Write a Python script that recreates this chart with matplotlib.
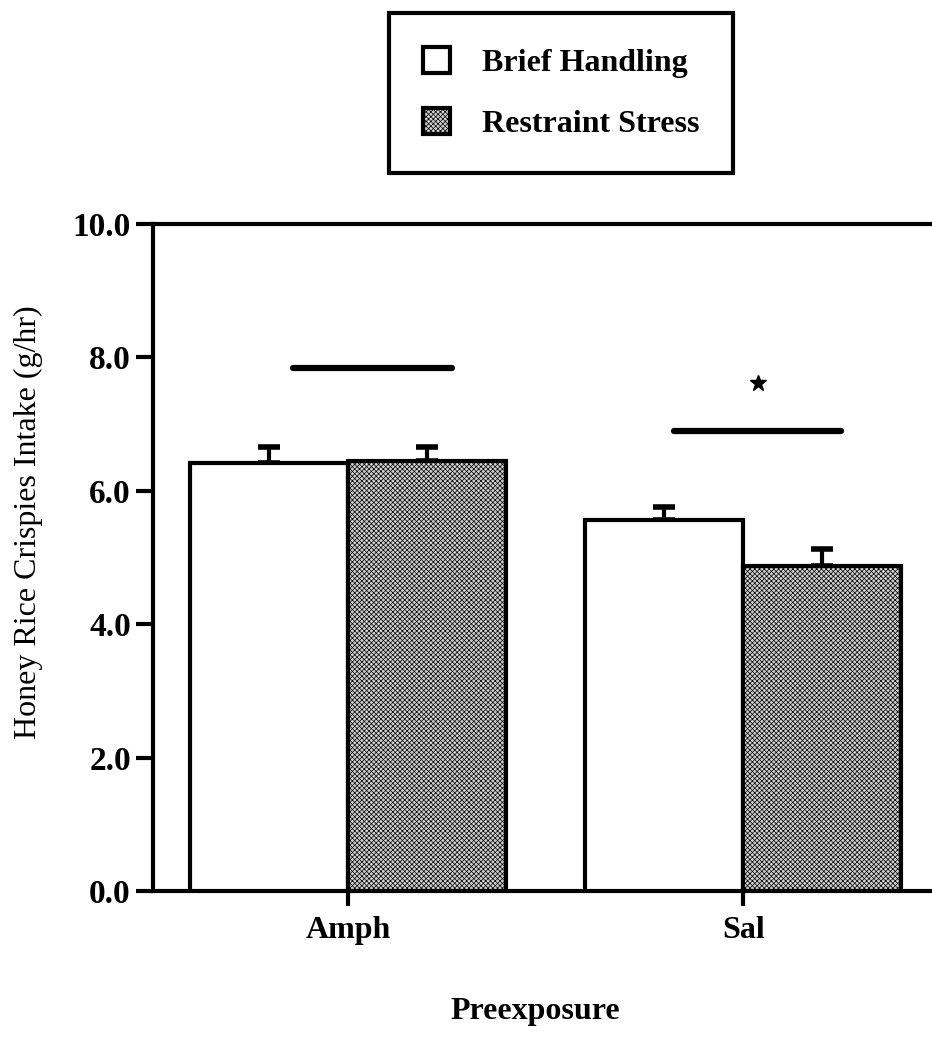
import numpy as np
import matplotlib
matplotlib.use('Agg')
import matplotlib.pyplot as plt

plt.rcParams['font.family'] = ['Liberation Serif', 'DejaVu Serif']
plt.rcParams['hatch.linewidth'] = 0.5
plt.rcParams['hatch.color'] = 'black'

groups = ['Amph', 'Sal']
conditions = ['Brief Handling', 'Restraint Stress']
handling = [6.42, 5.56]
handling_err = [0.24, 0.20]
restraint = [6.44, 4.88]
restraint_err = [0.22, 0.25]
yticks = [0.0, 2.0, 4.0, 6.0, 8.0, 10.0]

# comparison bars over each group, star marks the significant one
sig_y = [7.84, 6.89]
sig_x0 = [-0.14, -0.175]
sig_x1 = [0.263, 0.248]
star_x, star_y = 0.038, 7.62

fig = plt.figure(figsize=(9.32, 10.43), dpi=100)
ax = fig.add_axes([153/932, 1-891/1043, 1-153/932, (891-224)/1043])

x = np.arange(len(groups))
w = 0.4
b1 = ax.bar(x - w/2, handling, w, color='white', edgecolor='black', linewidth=3,
            label=conditions[0], zorder=3)
b2 = ax.bar(x + w/2, restraint, w, color='#cfcfcf', edgecolor='black', linewidth=3,
            hatch='xxxxxxx', label=conditions[1], zorder=3)

ax.errorbar(x - w/2, handling, yerr=[np.zeros(2), handling_err], fmt='none',
            ecolor='black', elinewidth=3, capsize=8, capthick=4, zorder=2)
ax.errorbar(x + w/2, restraint, yerr=[np.zeros(2), restraint_err], fmt='none',
            ecolor='black', elinewidth=3, capsize=8, capthick=4, zorder=2)

for i in range(len(groups)):
    ax.plot([x[i] + sig_x0[i], x[i] + sig_x1[i]], [sig_y[i], sig_y[i]],
            color='black', lw=4.5, solid_capstyle='round')
ax.plot(x[1] + star_x, star_y, marker='*', color='black', ms=12)

ax.set_xlim(-0.4937, 1.478)
ax.set_ylim(0, 10)
ax.set_yticks(yticks)
ax.set_yticklabels(['%.1f' % t for t in yticks], fontsize=24, fontweight='bold')
ax.set_xticks(x)
ax.set_xticklabels(groups, fontsize=23, fontweight='bold')
ax.tick_params(axis='y', length=12, width=3, pad=4)
ax.tick_params(axis='x', length=11, width=3, pad=7)

ax.spines['right'].set_visible(False)
for s in ['left', 'top', 'bottom']:
    ax.spines[s].set_linewidth(3)

fig.text(28/932, 1-522/1043, 'Honey Rice Crispies Intake (g/hr)', rotation=90,
         fontsize=23, ha='center', va='center')
fig.text(535/932, 1-1012/1043, 'Preexposure', fontsize=23, fontweight='bold',
         ha='center', va='center')

leg = fig.legend(handles=[b1, b2], loc='center', bbox_to_anchor=(561/932, 1-93/1043),
                 prop={'weight': 'bold', 'size': 23}, fancybox=False,
                 edgecolor='black', framealpha=1, handlelength=0.85, handleheight=0.85,
                 handletextpad=1.0, labelspacing=0.95, borderpad=1.05)
leg.get_frame().set_linewidth(3)

fig.savefig('out.png', dpi=100)
